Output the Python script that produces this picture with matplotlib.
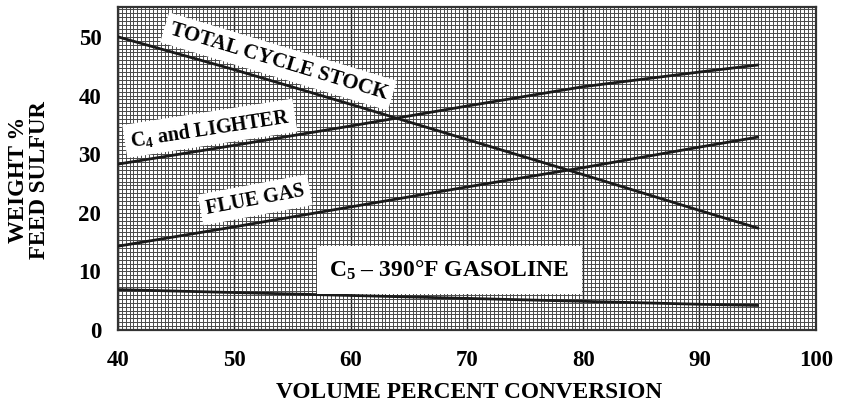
import numpy as np
import matplotlib
matplotlib.use("Agg")
import matplotlib.pyplot as plt

# Data
conversion = [40, 50, 60, 70, 80, 90, 95]
total_cycle_stock = [50.0, 44.4, 38.5, 32.5, 26.5, 20.4, 17.4]
c4_and_lighter = [28.3, 31.5, 34.8, 38.2, 41.5, 44.0, 45.2]
flue_gas = [14.3, 17.6, 21.0, 24.4, 27.7, 31.2, 32.9]
c5_gasoline = [6.9, 6.4, 5.9, 5.4, 4.9, 4.4, 4.2]

x_ticks = [40, 50, 60, 70, 80, 90, 100]
y_ticks = [0, 10, 20, 30, 40, 50]

plt.rcParams["font.family"] = ["Liberation Serif", "DejaVu Serif"]
plt.rcParams["font.weight"] = "bold"
plt.rcParams["mathtext.fontset"] = "custom"
plt.rcParams["mathtext.rm"] = "Liberation Serif:bold"
plt.rcParams["mathtext.bf"] = "Liberation Serif:bold"
plt.rcParams["mathtext.default"] = "bf"

fig = plt.figure(figsize=(8.41, 4.09), dpi=100)
ax = fig.add_axes([0.1403, 0.193, 0.8297, 0.790])

ax.set_xlim(40, 100)
ax.set_ylim(0, 55.1)

# graph paper grid
ax.set_xticks(np.arange(40, 100.001, 1 / 3), minor=True)
ax.set_yticks(np.arange(0, 55.1, 2 / 3), minor=True)
ax.set_xticks(x_ticks)
ax.set_yticks(y_ticks)
ax.grid(which="minor", color="#4a4a4a", linewidth=0.7)
ax.grid(which="major", axis="x", color="#222222", linewidth=1.0)
ax.grid(which="major", axis="y", color="#4a4a4a", linewidth=0.7)
ax.set_axisbelow(True)
ax.tick_params(which="both", length=0)
ax.tick_params(axis="x", pad=14, labelsize=16.5)
ax.tick_params(axis="y", pad=12, labelsize=16.5)
for s in ax.spines.values():
    s.set_linewidth(1.6)
    s.set_color("#333333")

for series in [total_cycle_stock, c4_and_lighter, flue_gas, c5_gasoline]:
    ax.plot(conversion, series, color="#1a1a1a", linewidth=2.0, zorder=3)

box = dict(facecolor="white", edgecolor="none", pad=4)
ax.text(53.8, 45.8, "TOTAL CYCLE STOCK", rotation=-16.7, rotation_mode="anchor",
        ha="center", va="center", fontsize=15, fontweight="bold", bbox=box, zorder=4)
ax.text(47.9, 34.4, r"C$_4$ and LIGHTER", rotation=8.8, rotation_mode="anchor",
        ha="center", va="center", fontsize=14.5, fontweight="bold", bbox=box, zorder=4)
ax.text(51.8, 22.2, "FLUE GAS", rotation=10.6, rotation_mode="anchor",
        ha="center", va="center", fontsize=14.5, fontweight="bold", bbox=box, zorder=4)
ax.text(68.5, 10.2, r"C$_5$ – 390°F GASOLINE", ha="center", va="center",
        fontsize=17, fontweight="bold",
        bbox=dict(facecolor="white", edgecolor="none", pad=9), zorder=4)

fig.text(0.558, 0.040, "VOLUME PERCENT CONVERSION", ha="center", va="center",
         fontsize=16.8, fontweight="bold")
fig.text(0.0345, 0.56, "WEIGHT %\nFEED SULFUR", rotation=90, ha="center", va="center",
         multialignment="center", fontsize=16.5, fontweight="bold", linespacing=1.05)

fig.savefig("out.png", dpi=100)
